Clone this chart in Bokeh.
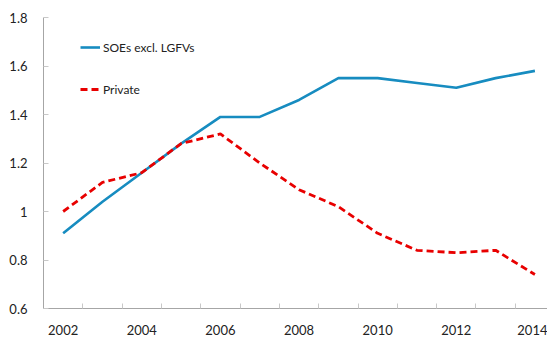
from bokeh.plotting import figure
from bokeh.models import FixedTicker, Legend, LegendItem, Range1d
from bokeh.embed import file_html
from bokeh.resources import INLINE

years = [2002, 2003, 2004, 2005, 2006, 2007, 2008, 2009, 2010, 2011, 2012, 2013, 2014]
soes = [0.91, 1.04, 1.16, 1.28, 1.39, 1.39, 1.46, 1.55, 1.55, 1.53, 1.51, 1.55, 1.58]
private = [1.00, 1.12, 1.16, 1.28, 1.32, 1.20, 1.09, 1.02, 0.91, 0.84, 0.83, 0.84, 0.74]
x_tick_labels = [2002, 2004, 2006, 2008, 2010, 2012, 2014]
y_ticks = [0.6, 0.8, 1.0, 1.2, 1.4, 1.6, 1.8]

FONT = "Lato"
p = figure(frame_width=504, frame_height=291, output_backend="svg", toolbar_location=None,
           x_range=Range1d(2001.5, 2014.32), y_range=Range1d(0.6, 1.8),
           min_border_left=43, min_border_top=17, min_border_right=0, min_border_bottom=35)
p.outline_line_color = None
p.xgrid.visible = False
p.ygrid.visible = False

r1 = p.line(years, soes, line_color="#178cc0", line_width=2.6)
r2 = p.line(years, private, line_color="#e80000", line_width=2.8, line_dash="7 4")

xa = p.xaxis[0]
xa.ticker = FixedTicker(ticks=x_tick_labels, minor_ticks=[y + 0.5 for y in years[:-1]])
xa.major_tick_in = 0
xa.major_tick_out = 0
xa.minor_tick_in = 5
xa.minor_tick_out = 0
xa.axis_line_color = "#a6a6a6"
xa.minor_tick_line_color = "#c8c8c8"
xa.major_label_standoff = 16
xa.major_label_text_font = FONT
xa.major_label_text_font_size = "13px"
xa.major_label_text_color = "#222222"

ya = p.yaxis[0]
ya.ticker = FixedTicker(ticks=y_ticks, minor_ticks=[])
ya.major_label_overrides = {0.6: "0.6", 0.8: "0.8", 1.0: "1", 1.2: "1.2", 1.4: "1.4", 1.6: "1.6", 1.8: "1.8"}
ya.major_tick_in = 5
ya.major_tick_out = 0
ya.axis_line_color = "#a6a6a6"
ya.major_tick_line_color = "#c8c8c8"
ya.major_label_standoff = 16
ya.major_label_text_font = FONT
ya.major_label_text_font_size = "13px"
ya.major_label_text_color = "#222222"

legend = Legend(items=[LegendItem(label="SOEs excl. LGFVs", renderers=[r1]),
                       LegendItem(label="Private", renderers=[r2])],
                location=(37, 209), padding=0, margin=0, spacing=22,
                glyph_width=20, glyph_height=20, label_height=20, label_standoff=3,
                label_text_font=FONT, label_text_font_size="12px", label_text_color="#222222",
                border_line_color=None, background_fill_alpha=0)
p.add_layout(legend)

open("out.html", "w").write(file_html(p, INLINE))
